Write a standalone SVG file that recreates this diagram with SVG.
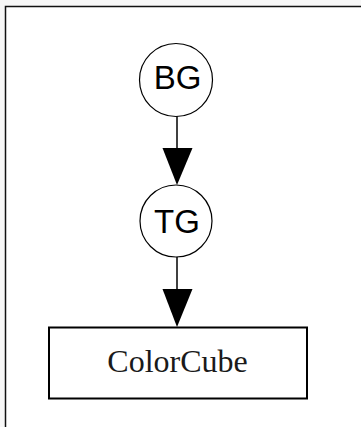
<svg xmlns="http://www.w3.org/2000/svg" width="361" height="427" viewBox="0 0 361 427">
<style>
.node{fill:#ffffff;stroke:#000000;stroke-width:1.2}
.box{fill:#ffffff;stroke:#000000;stroke-width:2}
.lbl{font-family:"Liberation Sans",Arial,sans-serif;font-size:33px;fill:#000000;text-anchor:middle}
.slbl{font-family:"Liberation Serif","Times New Roman",serif;font-size:32px;fill:#1a1a1a;text-anchor:middle}
.edge{stroke:#000000;stroke-width:1.5;fill:none}
.head{fill:#000000;stroke:none}
</style>
<rect x="0" y="0" width="361" height="427" fill="#f7f7f7"/>
<rect x="5.5" y="6.5" width="360" height="425" fill="#ffffff" stroke="#111111" stroke-width="1.5"/>
<g id="connectors">
<line class="edge" x1="177" y1="116" x2="177" y2="150"/>
<polygon class="head" points="162.5,148 192.5,148 177,185"/>
<line class="edge" x1="177" y1="257" x2="177" y2="291"/>
<polygon class="head" points="162.5,289 192.5,289 177,327"/>
</g>
<g id="node-BG">
<circle class="node" cx="176" cy="80" r="36.5"/>
<text class="lbl" x="177.5" y="89">BG</text>
</g>
<g id="node-TG">
<circle class="node" cx="176" cy="221" r="36"/>
<text class="lbl" x="177" y="232.5">TG</text>
</g>
<g id="node-ColorCube">
<rect class="box" x="49" y="327.5" width="258" height="71"/>
<text class="slbl" x="177.5" y="372">ColorCube</text>
</g>
</svg>
